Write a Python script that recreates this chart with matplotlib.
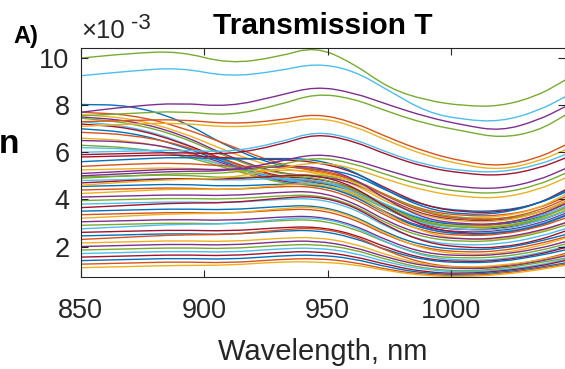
import matplotlib
matplotlib.use("Agg")
import matplotlib.pyplot as plt
from matplotlib.path import Path
from matplotlib.patches import PathPatch

wavelength = [850, 870, 890, 910, 930, 945, 960, 975, 990, 1005, 1020, 1035, 1046]

# transmission values, in units of 1e-3 (axis multiplier)
upper_curves = [
    [10.0, 10.2, 10.3, 9.75, 10.05, 10.5, 9.8, 8.7, 8.2, 7.97, 7.95, 8.4, 9.06],
    [9.25, 9.45, 9.6, 9.2, 9.45, 9.78, 9.5, 8.6, 7.7, 7.38, 7.3, 7.75, 8.35],
    [7.7, 7.95, 8.1, 7.93, 8.4, 8.8, 8.55, 8.0, 7.5, 7.15, 6.9, 7.35, 7.93],
    [7.55, 7.65, 7.75, 7.55, 8.0, 8.5, 8.3, 7.7, 7.2, 6.9, 6.6, 6.9, 7.57],
    [7.3, 7.35, 7.4, 7.2, 7.35, 7.65, 7.3, 6.6, 6.0, 5.6, 5.4, 5.75, 6.3],
    [7.1, 7.2, 7.25, 7.05, 7.2, 7.5, 7.15, 6.45, 5.85, 5.45, 5.25, 5.6, 6.1],
    [6.0, 6.05, 6.1, 6.0, 6.4, 6.9, 6.6, 5.95, 5.45, 5.2, 5.15, 5.45, 5.9],
    [5.9, 5.95, 6.0, 5.9, 6.3, 6.8, 6.5, 5.85, 5.35, 5.1, 5.0, 5.3, 5.75],
    [5.0, 5.1, 5.2, 5.2, 5.6, 5.95, 5.7, 5.2, 4.75, 4.5, 4.45, 4.8, 5.3],
    [4.9, 5.0, 5.1, 5.1, 5.45, 5.8, 5.55, 5.0, 4.55, 4.3, 4.25, 4.6, 5.1],
    [4.6, 4.75, 4.85, 4.9, 5.3, 5.6, 5.35, 4.8, 4.35, 4.1, 4.05, 4.4, 4.9],
]
upper_colors = ["#77AC30", "#4DBEEE", "#7E2F8E", "#77AC30", "#D95319", "#EDB120",
                "#4DBEEE", "#A2142F", "#7E2F8E", "#77AC30", "#EDB120"]

falling_curves = [
    [8.03, 8.0, 7.4, 6.2, 5.4, 5.3, 5.1, 4.3, 3.7, 3.5, 3.5, 3.8, 4.3],
    [7.7, 7.6, 7.1, 6.3, 5.5, 5.2, 4.9, 4.1, 3.5, 3.3, 3.3, 3.6, 4.1],
    [7.6, 7.45, 6.9, 6.0, 5.3, 5.15, 4.7, 3.8, 3.3, 3.2, 3.25, 3.6, 4.2],
    [7.5, 7.35, 6.8, 5.8, 5.1, 5.0, 4.75, 3.95, 3.3, 3.1, 3.1, 3.4, 3.9],
    [7.45, 7.25, 6.7, 5.75, 5.05, 5.05, 4.85, 4.1, 3.45, 3.2, 3.15, 3.4, 3.85],
    [7.3, 7.1, 6.5, 5.5, 4.85, 4.8, 4.5, 3.7, 3.1, 2.9, 2.95, 3.25, 3.7],
    [7.2, 7.05, 6.45, 5.6, 4.95, 4.9, 4.55, 3.55, 2.85, 2.7, 2.75, 3.05, 3.5],
    [7.0, 6.85, 6.3, 5.5, 4.8, 4.75, 4.4, 3.65, 3.05, 2.9, 2.9, 3.2, 3.6],
    [6.85, 6.75, 6.35, 5.6, 4.9, 4.8, 4.45, 3.5, 2.95, 2.85, 2.95, 3.3, 3.8],
    [6.6, 6.5, 6.1, 5.35, 4.7, 4.6, 4.35, 3.6, 3.0, 2.85, 2.85, 3.15, 3.6],
    [6.5, 6.45, 6.15, 5.45, 4.75, 4.65, 4.25, 3.35, 2.75, 2.6, 2.65, 2.95, 3.4],
    [6.3, 6.2, 5.9, 5.3, 4.7, 4.6, 4.3, 3.5, 2.95, 2.8, 2.8, 3.1, 3.5],
    [6.2, 6.15, 5.95, 5.4, 4.85, 4.7, 4.2, 3.3, 2.7, 2.55, 2.6, 2.9, 3.35],
]

middle_curves = [
    [5.8, 5.85, 5.9, 5.75, 5.7, 5.6, 5.2, 4.4, 3.7, 3.45, 3.45, 3.8, 4.4],
    [5.6, 5.7, 5.8, 5.7, 5.75, 5.7, 5.25, 4.3, 3.6, 3.35, 3.4, 3.8, 4.35],
    [5.4, 5.5, 5.55, 5.4, 5.4, 5.3, 4.9, 4.05, 3.4, 3.15, 3.15, 3.5, 4.0],
    [5.25, 5.3, 5.35, 5.2, 5.25, 5.2, 4.8, 3.9, 3.25, 3.05, 3.05, 3.4, 3.9],
    [5.1, 5.2, 5.3, 5.25, 5.4, 5.4, 4.95, 3.9, 3.15, 2.95, 2.95, 3.3, 3.8],
    [4.95, 5.0, 5.05, 4.9, 5.0, 4.95, 4.5, 3.6, 3.0, 2.8, 2.8, 3.15, 3.65],
    [4.8, 4.85, 4.9, 4.8, 4.9, 4.85, 4.4, 3.5, 2.9, 2.7, 2.7, 3.05, 3.5],
    [4.7, 4.8, 4.9, 4.85, 5.0, 5.05, 4.6, 3.55, 2.8, 2.55, 2.55, 2.85, 3.3],
    [4.55, 4.6, 4.65, 4.55, 4.65, 4.65, 4.2, 3.3, 2.7, 2.5, 2.55, 2.85, 3.3],
    [4.4, 4.45, 4.5, 4.4, 4.55, 4.55, 4.1, 3.2, 2.6, 2.45, 2.5, 2.8, 3.2],
    [4.25, 4.35, 4.45, 4.4, 4.6, 4.7, 4.3, 3.3, 2.55, 2.3, 2.3, 2.6, 3.0],
    [4.1, 4.15, 4.2, 4.15, 4.3, 4.35, 3.9, 3.0, 2.45, 2.3, 2.35, 2.65, 3.0],
    [3.95, 4.0, 4.05, 4.0, 4.15, 4.2, 3.8, 2.9, 2.35, 2.2, 2.25, 2.55, 2.9],
]

lower_curves = [
    [3.8, 3.85, 3.9, 3.85, 4.0, 4.05, 3.65, 2.75, 2.2, 2.05, 2.1, 2.4, 2.75],
    [3.65, 3.75, 3.85, 3.85, 4.05, 4.15, 3.75, 2.8, 2.15, 1.95, 1.95, 2.25, 2.65],
    [3.5, 3.55, 3.6, 3.55, 3.7, 3.75, 3.35, 2.5, 2.0, 1.85, 1.9, 2.2, 2.5],
    [3.35, 3.4, 3.45, 3.4, 3.55, 3.6, 3.2, 2.4, 1.9, 1.75, 1.8, 2.1, 2.4],
    [3.2, 3.3, 3.4, 3.4, 3.6, 3.7, 3.3, 2.45, 1.85, 1.65, 1.7, 2.0, 2.35],
    [3.05, 3.1, 3.15, 3.1, 3.25, 3.3, 2.95, 2.2, 1.7, 1.6, 1.65, 1.9, 2.2],
    [2.9, 2.95, 3.0, 2.95, 3.1, 3.15, 2.8, 2.1, 1.6, 1.5, 1.55, 1.8, 2.1],
    [2.75, 2.85, 2.95, 2.95, 3.15, 3.25, 2.9, 2.1, 1.55, 1.4, 1.45, 1.7, 2.0],
    [2.6, 2.65, 2.7, 2.65, 2.8, 2.85, 2.55, 1.9, 1.45, 1.35, 1.4, 1.65, 1.95],
    [2.45, 2.5, 2.55, 2.5, 2.65, 2.7, 2.4, 1.8, 1.4, 1.3, 1.35, 1.6, 1.85],
    [2.3, 2.4, 2.5, 2.5, 2.7, 2.8, 2.5, 1.75, 1.25, 1.1, 1.15, 1.4, 1.7],
    [2.15, 2.2, 2.25, 2.2, 2.35, 2.4, 2.15, 1.6, 1.2, 1.1, 1.2, 1.4, 1.65],
    [2.0, 2.05, 2.1, 2.05, 2.2, 2.25, 2.0, 1.5, 1.15, 1.05, 1.1, 1.35, 1.6],
    [1.85, 1.9, 1.95, 1.9, 2.05, 2.1, 1.9, 1.4, 1.05, 0.95, 1.05, 1.3, 1.5],
    [1.7, 1.75, 1.8, 1.75, 1.9, 1.95, 1.75, 1.3, 1.0, 0.9, 1.0, 1.2, 1.45],
    [1.55, 1.6, 1.65, 1.6, 1.75, 1.8, 1.6, 1.2, 0.9, 0.85, 0.95, 1.15, 1.4],
    [1.4, 1.45, 1.5, 1.45, 1.6, 1.65, 1.5, 1.1, 0.85, 0.8, 0.9, 1.1, 1.3],
    [1.25, 1.3, 1.35, 1.3, 1.45, 1.5, 1.35, 1.0, 0.8, 0.75, 0.85, 1.05, 1.25],
    [1.1, 1.15, 1.2, 1.2, 1.35, 1.35, 1.25, 0.95, 0.75, 0.72, 0.8, 1.0, 1.2],
]

matlab_colors = ["#0072BD", "#D95319", "#EDB120", "#7E2F8E",
                 "#77AC30", "#4DBEEE", "#A2142F"]

plt.rcParams['font.family'] = ['Liberation Sans', 'DejaVu Sans']
text_color = "#262626"


def smooth_line(ax, xs, ys, color):
    # quadratic bezier through segment midpoints, control points = data
    verts = [(xs[0], ys[0])]
    codes = [Path.MOVETO]
    verts.append(((xs[0] + xs[1]) / 2, (ys[0] + ys[1]) / 2))
    codes.append(Path.LINETO)
    for i in range(1, len(xs) - 1):
        verts += [(xs[i], ys[i]),
                  ((xs[i] + xs[i + 1]) / 2, (ys[i] + ys[i + 1]) / 2)]
        codes += [Path.CURVE3, Path.CURVE3]
    verts.append((xs[-1], ys[-1]))
    codes.append(Path.LINETO)
    ax.add_patch(PathPatch(Path(verts, codes), fill=False, edgecolor=color,
                           lw=1.0, capstyle='round', joinstyle='round'))


fig = plt.figure(figsize=(5.65, 3.69), dpi=100)
ax = fig.add_axes([0.1428, 0.249, 0.857, 0.621])

k = 0
for group in (falling_curves, middle_curves, lower_curves):
    for values in group:
        smooth_line(ax, wavelength, values, matlab_colors[k % 7])
        k += 1
for values, c in zip(upper_curves, upper_colors):
    smooth_line(ax, wavelength, values, c)

ax.set_xlim(850, 1046)
ax.set_ylim(0.7, 10.43)
ax.set_xticks([850, 900, 950, 1000])
ax.set_yticks([2, 4, 6, 8, 10])

ax.tick_params(direction='in', top=True, right=True, labelsize=19.5,
               colors=text_color, length=5, width=0.8)
ax.tick_params(axis='x', pad=15)
ax.tick_params(axis='y', pad=8)
for s in ax.spines.values():
    s.set_color(text_color)
    s.set_linewidth(0.8)

ax.set_xlabel("Wavelength, nm", fontsize=21, color=text_color, labelpad=10)
ax.set_title("Transmission T", fontsize=21.5, fontweight='bold', pad=10)

# axis multiplier, drawn the way MATLAB shows it
fig.text(0.143, 0.897, "\u00d710", fontsize=18.5, color=text_color)
fig.text(0.231, 0.922, "-3", fontsize=16, color=text_color)

fig.text(0.023, 0.883, "A)", fontsize=17, fontweight='bold')
fig.text(0.034, 0.585, "n", fontsize=24, fontweight='bold', ha='right')

fig.savefig("out.png", dpi=100)
